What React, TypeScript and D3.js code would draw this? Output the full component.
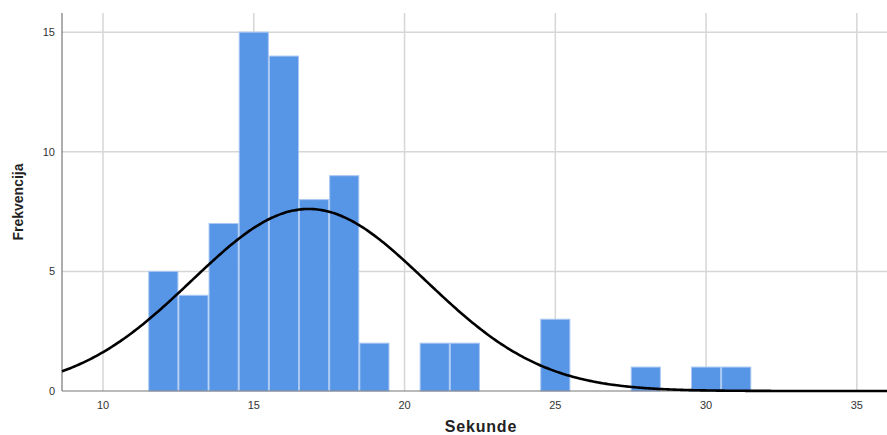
import React from "react";
import * as d3 from "d3";

const binCenters = [12, 13, 14, 15, 16, 17, 18, 19, 21, 22, 25, 28, 30, 31];
const frequencies = [5, 4, 7, 15, 14, 8, 9, 2, 2, 2, 3, 1, 1, 1];
const xTicks = [10, 15, 20, 25, 30, 35];
const yTicks = [0, 5, 10, 15];
const binWidth = 1;
const fitMean = 16.82;
const fitSd = 3.88;
const xTitle = "Sekunde";
const yTitle = "Frekvencija";

const W = 887, H = 435;
const M = { left: 62, right: 0, top: 13, bottom: 44 };

export default function App() {
  const x = d3.scaleLinear().domain([8.64, 36.0]).range([M.left, W - M.right]);
  const y = d3.scaleLinear().domain([0, 15.8]).range([H - M.bottom, M.top]);
  const n = d3.sum(frequencies);
  const pts: [number, number][] = d3.range(0, 401).map((i) => {
    const v = 8.64 + (i / 400) * (36.0 - 8.64);
    const z = (v - fitMean) / fitSd;
    return [v, (n * binWidth) / (fitSd * Math.sqrt(2 * Math.PI)) * Math.exp(-0.5 * z * z)];
  });
  const line = d3.line<[number, number]>().x((d) => x(d[0])).y((d) => y(d[1])).curve(d3.curveBasis);
  const y0 = y(0);
  return (
    <svg width={W} height={H} style={{ position: "absolute", left: 0, top: 0, background: "#fff" }}>
      {xTicks.map((t) => (
        <line key={"gx" + t} x1={x(t)} x2={x(t)} y1={M.top} y2={y0} stroke="#d6d6d6" strokeWidth={1.5} />
      ))}
      {yTicks.filter((t) => t > 0).map((t) => (
        <line key={"gy" + t} x1={M.left} x2={W} y1={y(t)} y2={y(t)} stroke="#d6d6d6" strokeWidth={1.5} />
      ))}
      {binCenters.map((c, i) => (
        <rect
          key={"b" + i}
          x={x(c - binWidth / 2) + 0.5}
          y={y(frequencies[i])}
          width={x(c + binWidth / 2) - x(c - binWidth / 2) - 1}
          height={y0 - y(frequencies[i])}
          fill="#5795e6"
          stroke="#a9c8f3"
          strokeWidth={1}
        />
      ))}
      <line x1={M.left} x2={M.left} y1={M.top} y2={y0} stroke="#777" strokeWidth={1.2} />
      <line x1={M.left} x2={W} y1={y0} y2={y0} stroke="#777" strokeWidth={1.2} />
      <path d={line(pts) || ""} fill="none" stroke="#000" strokeWidth={2.6} />
      {yTicks.map((t) => (
        <text key={"ty" + t} x={M.left - 7} y={y(t) + 4} textAnchor="end" fontFamily="Liberation Sans, Arial, sans-serif" fontSize={11} fill="#333">
          {t}
        </text>
      ))}
      {xTicks.map((t) => (
        <text key={"tx" + t} x={x(t)} y={y0 + 18} textAnchor="middle" fontFamily="Liberation Sans, Arial, sans-serif" fontSize={11} fill="#333">
          {t}
        </text>
      ))}
      <text x={481} y={432} textAnchor="middle" fontFamily="Liberation Sans, Arial, sans-serif" fontSize={16} letterSpacing={0.8} fontWeight="bold" fill="#222">
        {xTitle}
      </text>
      <text transform={`translate(23, ${(M.top + y0) / 2}) rotate(-90)`} textAnchor="middle" fontFamily="Liberation Sans, Arial, sans-serif" fontSize={14} fontWeight="bold" fill="#222">
        {yTitle}
      </text>
    </svg>
  );
}
